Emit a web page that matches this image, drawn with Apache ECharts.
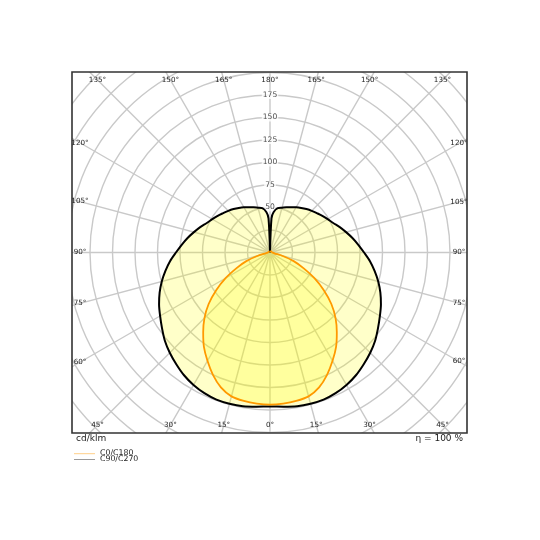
<!DOCTYPE html>
<html>
<head>
<meta charset="utf-8">
<title>LDC</title>
<style>
  html, body { margin: 0; padding: 0; background: #fff; }
  #ldc { width: 540px; height: 540px; }
</style>
<script type="text/javascript" src="https://cdn.jsdelivr.net/npm/echarts@6.0.0/dist/echarts.min.js"></script>
</head>
<body>
<div id="ldc"></div>
<script type="text/javascript">
// gamma angles (deg) the intensities were read at
var gammaAngles = [0, 5, 10, 15, 20, 25, 30, 35, 40, 45, 50, 55, 60, 65, 70, 75, 80, 85, 90,
  95, 100, 105, 110, 115, 120, 125, 130, 135, 140, 145, 150, 155, 160, 165, 170, 175, 177.5, 180];
// cd/klm, C0/C180 plane (orange)
var c0c180 = [169, 168.5, 167.5, 165.5, 159.5, 150, 139, 128, 115.5, 103, 89, 73, 57, 41, 28, 14, 5, 2.5, 2,
  2, 2, 2, 2, 2, 2, 2, 1.5, 1.5, 1.5, 1.5, 1.5, 1, 1, 1, 1, 1, 1, 1];
// cd/klm, C90/C270 plane (black)
var c90c270 = [171, 172, 173.5, 174, 174, 172.5, 170, 166.5, 162, 157.5, 152.5, 146.5, 141, 136, 130.5, 124.5, 118, 111.5, 104.5,
  98.5, 93, 87.5, 82.5, 77.5, 74, 71, 68, 65.5, 63, 60.5, 58, 55.5, 53.5, 51.5, 50, 45, 38, 0];
var radiusLabels = [50, 75, 100, 125, 150, 175];
var legendNames = ['C0/C180', 'C90/C270'];

var CX = 270, CY = 252.5;
var BOX = { x1: 72, y1: 72, x2: 467, y2: 433 };
var FONT = 'DejaVu Sans';

// both halves of a plane: right side negative angles, left side positive
function plane(values) {
  var out = [];
  for (var i = gammaAngles.length - 1; i >= 0; i--) out.push([values[i], -gammaAngles[i]]);
  for (var j = 1; j < gammaAngles.length; j++) out.push([values[j], gammaAngles[j]]);
  return out;
}

var chart = echarts.init(document.getElementById('ldc'), null, { renderer: 'canvas' });

var graphics = [];
// angle labels along the inside of the frame
for (var s = -165; s <= 180; s += 15) {
  var rad = s * Math.PI / 180;
  var dx = -Math.sin(rad), dy = Math.cos(rad);
  if (Math.abs(dx) < 1e-9) dx = 0;
  if (Math.abs(dy) < 1e-9) dy = 0;
  var tx = dx === 0 ? Infinity : (dx < 0 ? CX - BOX.x1 - 8 : BOX.x2 - CX - 8) / Math.abs(dx);
  var ty = dy === 0 ? Infinity : (dy < 0 ? CY - BOX.y1 - 8 : BOX.y2 - CY - 8) / Math.abs(dy);
  var t = Math.min(tx, ty);
  graphics.push({
    type: 'text', z: 50,
    x: CX + dx * t, y: CY + dy * t,
    style: { text: Math.abs(s) + '°', fontSize: 7.2, fontFamily: FONT, fill: '#222', align: 'center', verticalAlign: 'middle' }
  });
}
// white masks outside the frame
[[0, 0, BOX.x1, 540], [BOX.x2, 0, 540 - BOX.x2, 540], [0, 0, 540, BOX.y1], [0, BOX.y2, 540, 540 - BOX.y2]].forEach(function (r) {
  graphics.push({ type: 'rect', z: 100, shape: { x: r[0], y: r[1], width: r[2], height: r[3] }, style: { fill: '#fff' } });
});
graphics.push({
  type: 'rect', z: 101,
  shape: { x: BOX.x1, y: BOX.y1, width: BOX.x2 - BOX.x1, height: BOX.y2 - BOX.y1 },
  style: { fill: null, stroke: '#333', lineWidth: 1.6 }
});
graphics.push({ type: 'text', z: 102, x: 76, y: 439, style: { text: 'cd/klm', fontSize: 9, fontFamily: FONT, fill: '#222', verticalAlign: 'middle' } });
graphics.push({ type: 'text', z: 102, x: 463, y: 439, style: { text: 'η = 100 %', fontSize: 9, fontFamily: FONT, fill: '#222', align: 'right', verticalAlign: 'middle' } });
// legend
var legendColors = ['#ffcf88', '#9a9a9a'];
legendNames.forEach(function (name, i) {
  var ly = 453.7 + i * 5.8;
  graphics.push({ type: 'line', z: 102, shape: { x1: 74, y1: ly, x2: 95, y2: ly }, style: { stroke: legendColors[i], lineWidth: 1 } });
  graphics.push({ type: 'text', z: 102, x: 100, y: ly - 0.5, style: { text: name, fontSize: 7.8, fontFamily: FONT, fill: '#222', verticalAlign: 'middle' } });
});

var gridStyle = { color: '#c9c9c9', width: 1.4 };

var option = {
  animation: false,
  backgroundColor: '#fff',
  polar: { center: [CX, CY], radius: 270 },
  angleAxis: {
    type: 'value', min: -180, max: 180, interval: 15,
    startAngle: 90, clockwise: true,
    axisLine: { show: false }, axisTick: { show: false }, axisLabel: { show: false },
    splitLine: { show: true, lineStyle: gridStyle }
  },
  radiusAxis: {
    type: 'value', min: 0, max: 300, interval: 25,
    axisLine: { show: false }, axisTick: { show: false }, axisLabel: { show: false },
    splitLine: { show: true, lineStyle: gridStyle }
  },
  series: [
    {
      name: legendNames[1], type: 'line', coordinateSystem: 'polar',
      data: plane(c90c270), symbol: 'none', smooth: 0.3,
      lineStyle: { color: '#000', width: 2 },
      areaStyle: { color: 'rgba(255,255,0,0.3)' }
    },
    {
      name: legendNames[0], type: 'line', coordinateSystem: 'polar',
      data: plane(c0c180), symbol: 'none', smooth: 0.3,
      lineStyle: { color: '#ff9900', width: 1.8 },
      areaStyle: { color: 'rgba(255,255,0,0.3)' }
    },
    {
      type: 'scatter', coordinateSystem: 'polar', symbolSize: 1,
      itemStyle: { color: 'rgba(0,0,0,0)' },
      data: radiusLabels.map(function (v) { return [v, 180]; }),
      label: {
        show: true, position: 'inside',
        formatter: function (p) { return p.value[0]; },
        fontSize: 7.6, fontFamily: FONT, color: '#222',
        backgroundColor: '#fff', padding: [0, 1]
      }
    }
  ],
  graphic: graphics
};
chart.setOption(option);
</script>
</body>
</html>
